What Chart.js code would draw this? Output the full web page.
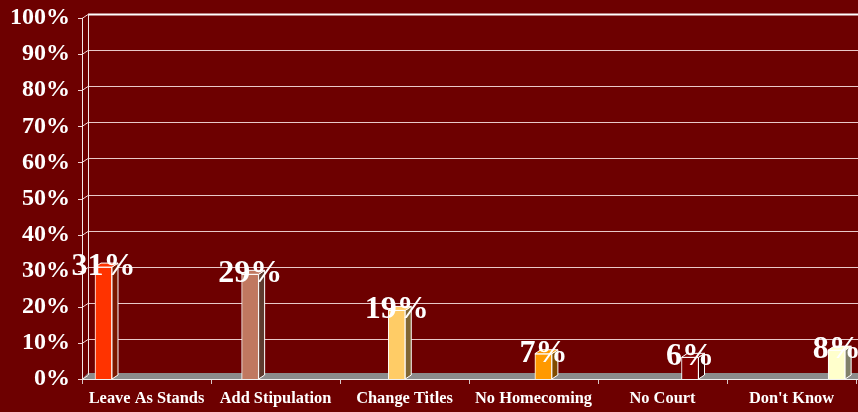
<!DOCTYPE html>
<html>
<head>
<meta charset="utf-8">
<script src="https://cdn.jsdelivr.net/npm/chart.js@4/dist/chart.umd.min.js"></script>
<style>
  html, body { margin: 0; padding: 0; background: #6d0000; }
  #wrap { width: 858px; height: 412px; }
</style>
</head>
<body>
<div id="wrap"><canvas id="c" width="858" height="412"></canvas></div>
<script>
// données
const categories = ['Leave As Stands', 'Add Stipulation', 'Change Titles', 'No Homecoming', 'No Court', "Don't Know"];
const values = [31, 29, 19, 7, 6, 8];
const barColors = ['#ff3300', '#c07860', '#ffcc66', '#ff9900', '#800000', '#ffffcc'];
const sideColors = ['#7a1800', '#5e3a2e', '#806633', '#804c00', '#400000', '#80806a'];

const DX = 6, DY = -4;   // profondeur 3D
const serif = '"Liberation Serif", "Times New Roman", serif';

// fond, murs et sol en 3D
const wallPlugin = {
    id: 'wall',
    beforeDatasetsDraw(chart) {
        const ctx = chart.ctx;
        const y = chart.scales.y;
        const a = chart.chartArea;
        ctx.save();
        // sol gris
        ctx.fillStyle = '#8c8c8c';
        ctx.beginPath();
        ctx.moveTo(a.left, a.bottom);
        ctx.lineTo(a.right + 2, a.bottom);
        ctx.lineTo(a.right + 2 + DX, a.bottom - 6);
        ctx.lineTo(a.left + DX, a.bottom - 6);
        ctx.closePath();
        ctx.fill();
        ctx.strokeStyle = '#f0f0f0';
        ctx.lineWidth = 1;
        ctx.beginPath();
        ctx.moveTo(a.left, a.bottom + 0.5);
        ctx.lineTo(chart.width, a.bottom + 0.5);
        ctx.stroke();

        // lignes de grille sur le mur du fond
        for (let v = 10; v <= 100; v += 10) {
            const py = Math.round(y.getPixelForValue(v)) + DY;
            ctx.strokeStyle = v === 100 ? '#ffffff' : 'rgba(255,235,235,0.85)';
            ctx.lineWidth = v === 100 ? 2 : 1;
            ctx.beginPath();
            ctx.moveTo(a.left + DX, py + 0.5);
            ctx.lineTo(chart.width, py + 0.5);
            ctx.stroke();
        }
        ctx.strokeStyle = 'rgba(255,235,235,0.9)';
        ctx.lineWidth = 1;
        for (let v = 0; v <= 100; v += 10) {
            const py = Math.round(y.getPixelForValue(v));
            ctx.beginPath();
            ctx.moveTo(a.left, py + 0.5);
            ctx.lineTo(a.left + DX, py + DY + 0.5);
            ctx.moveTo(a.left - 4, py + 0.5);
            ctx.lineTo(a.left, py + 0.5);
            ctx.stroke();
        }
        // axes verticaux
        ctx.strokeStyle = '#f4e8e8';
        ctx.beginPath();
        ctx.moveTo(a.left + 0.5, a.top);
        ctx.lineTo(a.left + 0.5, a.bottom + 1);
        ctx.moveTo(a.left + DX + 0.5, a.top + DY);
        ctx.lineTo(a.left + DX + 0.5, a.bottom + DY);
        ctx.stroke();
        ctx.restore();
    },
    afterDatasetsDraw(chart) {
        const ctx = chart.ctx;
        const meta = chart.getDatasetMeta(0);
        ctx.save();
        meta.data.forEach((bar, i) => {
            const p = bar.getProps(['x', 'y', 'base', 'width'], true);
            const l = p.x - p.width / 2, r = p.x + p.width / 2;
            ctx.lineWidth = 1;
            ctx.strokeStyle = '#ffffff';
            // face latérale
            ctx.fillStyle = sideColors[i];
            ctx.beginPath();
            ctx.moveTo(r, p.y);
            ctx.lineTo(r + DX, p.y + DY);
            ctx.lineTo(r + DX, p.base + DY);
            ctx.lineTo(r, p.base);
            ctx.closePath();
            ctx.fill();
            ctx.stroke();
            // dessus
            ctx.fillStyle = barColors[i];
            ctx.beginPath();
            ctx.moveTo(l, p.y);
            ctx.lineTo(l + DX, p.y + DY);
            ctx.lineTo(r + DX, p.y + DY);
            ctx.lineTo(r, p.y);
            ctx.closePath();
            ctx.fill();
            ctx.stroke();
        });
        // étiquettes de valeur
        ctx.fillStyle = '#ffffff';
        ctx.font = 'bold 32px ' + serif;
        ctx.textAlign = 'center';
        ctx.textBaseline = 'alphabetic';
        meta.data.forEach((bar, i) => {
            ctx.fillText(values[i] + '%', bar.x, bar.y + 8);
        });
        ctx.restore();
    }
};

new Chart(document.getElementById('c'), {
    type: 'bar',
    data: {
        labels: categories,
        datasets: [{
            data: values.map((v, i) => ({ x: i, y: v })),
            xAxisID: 'xb',
            backgroundColor: barColors,
            borderColor: '#ffffff',
            borderWidth: 1,
            barThickness: 17
        }]
    },
    options: {
        responsive: false,
        devicePixelRatio: 1,
        animation: false,
        layout: { padding: { top: 15, right: 2, left: 0, bottom: 0 } },
        plugins: { legend: { display: false }, tooltip: { enabled: false } },
        scales: {
            x: {
                type: 'category',
                labels: categories,
                offset: true,
                grid: { offset: true, drawOnChartArea: false, tickLength: 5, color: '#d8c8c8' },
                border: { display: false },
                ticks: { color: '#ffffff', font: { family: serif, size: 16.4, weight: 'bold' }, padding: 5, maxRotation: 0, autoSkip: false },
                afterFit: s => { s.height = 33; }
            },
            xb: {
                type: 'linear',
                display: false,
                offset: false,
                min: -0.1466,
                max: 5.132
            },
            y: {
                min: 0,
                max: 100,
                grid: { display: false, drawTicks: false },
                border: { display: false },
                ticks: {
                    stepSize: 10,
                    color: '#ffffff',
                    padding: 12,
                    font: { family: serif, size: 24, weight: 'bold', lineHeight: 0.5 },
                    callback: v => v + '%'
                },
                afterFit: s => { s.width = 82; }
            }
        }
    },
    plugins: [wallPlugin]
});
</script>
</body>
</html>
